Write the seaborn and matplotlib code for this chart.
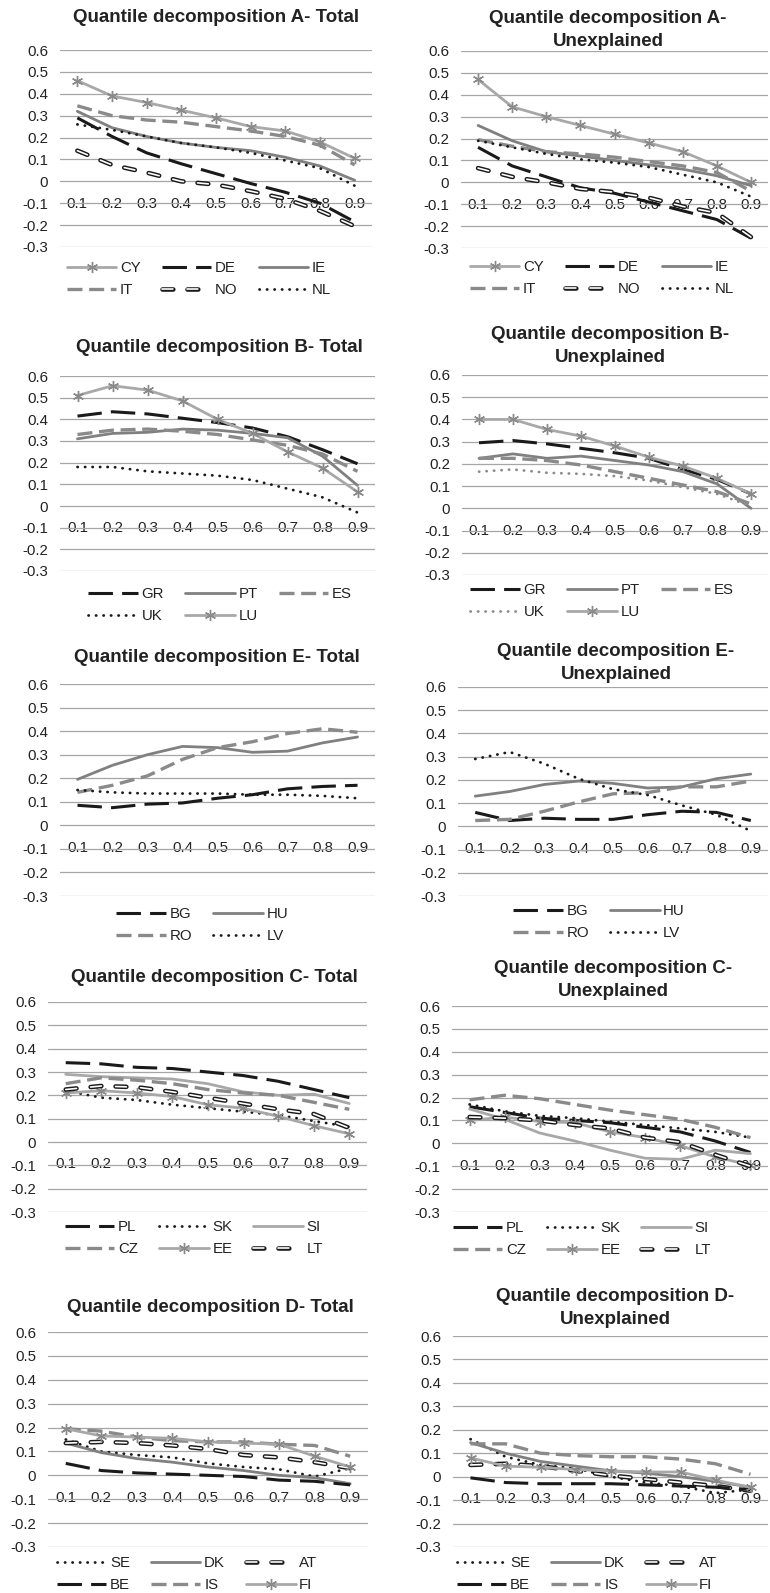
import numpy as np
import pandas as pd
import matplotlib
matplotlib.use("Agg")
import matplotlib.pyplot as plt
import matplotlib.patheffects as pe
import seaborn as sns

# quantiles on the x axis
quantiles = [0.1, 0.2, 0.3, 0.4, 0.5, 0.6, 0.7, 0.8, 0.9]
y_ticks = [-0.3, -0.2, -0.1, 0.0, 0.1, 0.2, 0.3, 0.4, 0.5, 0.6]

# A - Total
a_tot_cy = [0.46, 0.39, 0.36, 0.325, 0.29, 0.25, 0.23, 0.18, 0.105]
a_tot_de = [0.29, 0.205, 0.13, 0.08, 0.035, -0.01, -0.05, -0.10, -0.185]
a_tot_ie = [0.32, 0.245, 0.205, 0.175, 0.155, 0.14, 0.11, 0.07, 0.005]
a_tot_it = [0.345, 0.30, 0.28, 0.27, 0.25, 0.23, 0.205, 0.165, 0.075]
a_tot_no = [0.14, 0.075, 0.04, 0.0, -0.015, -0.045, -0.08, -0.135, -0.205]
a_tot_nl = [0.26, 0.235, 0.205, 0.175, 0.155, 0.13, 0.095, 0.06, -0.02]

# A - Unexplained
a_une_cy = [0.47, 0.345, 0.30, 0.26, 0.22, 0.18, 0.14, 0.075, 0.0]
a_une_de = [0.16, 0.075, 0.025, -0.025, -0.05, -0.09, -0.13, -0.17, -0.255]
a_une_ie = [0.26, 0.19, 0.14, 0.12, 0.10, 0.08, 0.06, 0.03, -0.015]
a_une_it = [0.195, 0.165, 0.14, 0.13, 0.115, 0.095, 0.075, 0.045, -0.04]
a_une_no = [0.065, 0.025, 0.0, -0.03, -0.045, -0.07, -0.11, -0.14, -0.25]
a_une_nl = [0.19, 0.16, 0.13, 0.105, 0.09, 0.07, 0.035, 0.0, -0.065]

# B - Total
b_tot_gr = [0.415, 0.435, 0.425, 0.405, 0.385, 0.36, 0.32, 0.26, 0.195]
b_tot_pt = [0.31, 0.335, 0.34, 0.355, 0.35, 0.335, 0.315, 0.23, 0.095]
b_tot_es = [0.33, 0.35, 0.355, 0.345, 0.33, 0.305, 0.28, 0.24, 0.16]
b_tot_uk = [0.18, 0.18, 0.16, 0.15, 0.14, 0.12, 0.08, 0.04, -0.03]
b_tot_lu = [0.51, 0.555, 0.535, 0.485, 0.40, 0.335, 0.25, 0.175, 0.065]

# B - Unexplained
b_une_gr = [0.295, 0.305, 0.29, 0.27, 0.25, 0.225, 0.175, 0.13, 0.065]
b_une_pt = [0.225, 0.245, 0.225, 0.235, 0.215, 0.195, 0.165, 0.11, 0.0]
b_une_es = [0.225, 0.225, 0.215, 0.195, 0.165, 0.135, 0.105, 0.075, 0.02]
b_une_uk = [0.165, 0.175, 0.16, 0.155, 0.145, 0.125, 0.095, 0.065, 0.01]
b_une_lu = [0.40, 0.40, 0.355, 0.325, 0.28, 0.23, 0.19, 0.135, 0.065]

# E - Total
e_tot_bg = [0.085, 0.075, 0.09, 0.095, 0.115, 0.13, 0.155, 0.165, 0.17]
e_tot_hu = [0.195, 0.255, 0.30, 0.335, 0.33, 0.31, 0.315, 0.35, 0.375]
e_tot_ro = [0.14, 0.17, 0.21, 0.28, 0.33, 0.355, 0.39, 0.41, 0.395]
e_tot_lv = [0.15, 0.14, 0.135, 0.135, 0.135, 0.13, 0.13, 0.125, 0.115]

# E - Unexplained
e_une_bg = [0.06, 0.025, 0.035, 0.03, 0.03, 0.05, 0.065, 0.06, 0.025]
e_une_hu = [0.13, 0.15, 0.18, 0.195, 0.185, 0.165, 0.17, 0.205, 0.225]
e_une_ro = [0.025, 0.03, 0.065, 0.105, 0.14, 0.145, 0.17, 0.17, 0.195]
e_une_lv = [0.29, 0.32, 0.27, 0.205, 0.16, 0.135, 0.09, 0.05, -0.02]

# C - Total
c_tot_pl = [0.34, 0.335, 0.32, 0.315, 0.30, 0.285, 0.26, 0.225, 0.19]
c_tot_sk = [0.22, 0.19, 0.18, 0.16, 0.145, 0.13, 0.115, 0.09, 0.065]
c_tot_si = [0.29, 0.28, 0.275, 0.27, 0.25, 0.215, 0.20, 0.205, 0.165]
c_tot_cz = [0.25, 0.275, 0.265, 0.25, 0.225, 0.21, 0.20, 0.17, 0.14]
c_tot_ee = [0.21, 0.22, 0.21, 0.195, 0.16, 0.145, 0.11, 0.07, 0.035]
c_tot_lt = [0.225, 0.24, 0.235, 0.215, 0.19, 0.165, 0.14, 0.12, 0.06]

# C - Unexplained
c_une_pl = [0.16, 0.135, 0.11, 0.10, 0.09, 0.07, 0.05, 0.01, -0.04]
c_une_sk = [0.17, 0.14, 0.12, 0.11, 0.095, 0.08, 0.065, 0.05, 0.025]
c_une_si = [0.15, 0.105, 0.045, 0.01, -0.03, -0.065, -0.07, -0.03, -0.045]
c_une_cz = [0.19, 0.21, 0.195, 0.17, 0.145, 0.125, 0.105, 0.07, 0.025]
c_une_ee = [0.10, 0.115, 0.095, 0.09, 0.05, 0.025, -0.01, -0.06, -0.095]
c_une_lt = [0.115, 0.11, 0.10, 0.08, 0.065, 0.025, 0.005, -0.05, -0.10]

# D - Total
d_tot_se = [0.15, 0.10, 0.085, 0.075, 0.05, 0.035, 0.025, -0.005, 0.03]
d_tot_dk = [0.135, 0.095, 0.07, 0.055, 0.035, 0.02, 0.0, -0.01, -0.035]
d_tot_at = [0.135, 0.14, 0.135, 0.125, 0.11, 0.085, 0.075, 0.055, 0.03]
d_tot_be = [0.05, 0.02, 0.01, 0.005, 0.0, -0.005, -0.02, -0.025, -0.04]
d_tot_is = [0.195, 0.185, 0.16, 0.145, 0.14, 0.14, 0.13, 0.125, 0.08]
d_tot_fi = [0.195, 0.165, 0.16, 0.155, 0.14, 0.135, 0.13, 0.08, 0.035]

# D - Unexplained
d_une_se = [0.16, 0.085, 0.05, 0.035, 0.0, -0.025, -0.04, -0.07, -0.055]
d_une_dk = [0.145, 0.10, 0.065, 0.045, 0.025, 0.015, 0.0, -0.02, -0.045]
d_une_at = [0.05, 0.055, 0.045, 0.025, 0.005, -0.01, -0.025, -0.04, -0.06]
d_une_be = [-0.005, -0.025, -0.03, -0.03, -0.03, -0.035, -0.04, -0.045, -0.055]
d_une_is = [0.14, 0.14, 0.10, 0.09, 0.085, 0.085, 0.075, 0.055, 0.01]
d_une_fi = [0.08, 0.045, 0.04, 0.03, 0.025, 0.02, 0.02, -0.015, -0.045]

# ---- styling ----
sns.set_style("white")
plt.rcParams["font.family"] = ["Liberation Sans", "DejaVu Sans"]

BLACK = "#1a1a1a"
LIGHT = "#a8a8a8"
MID = "#808080"
DASHG = "#8a8a8a"
GRID = "#a6a6a6"
TXT = "#222222"

STYLES = {
    "star": dict(color=LIGHT, lw=2.0, linestyle="-", marker=(6, 2, 0), markersize=8,
                 markeredgecolor="#8a8a8a", markeredgewidth=1.0),
    "longdash": dict(color=BLACK, lw=2.2, linestyle=(0, (8, 3))),
    "mid": dict(color=MID, lw=2.0, linestyle="-"),
    "light": dict(color=LIGHT, lw=2.0, linestyle="-"),
    "dash": dict(color=DASHG, lw=2.4, linestyle=(0, (4.5, 2))),
    "hollow": dict(color="white", lw=1.2, linestyle=(0, (6.5, 8.5)), dash_capstyle="round",
                   path_effects=[pe.Stroke(linewidth=3.3, foreground=BLACK), pe.Normal()]),
    "dot": dict(color=BLACK, lw=2.0, linestyle=(0, (0.1, 2.6)), dash_capstyle="round"),
    "dotgray": dict(color="#8c8c8c", lw=2.0, linestyle=(0, (0.1, 2.6)), dash_capstyle="round"),
}

W, H = 770, 1593
fig = plt.figure(figsize=(W / 100, H / 100), dpi=100)

# each panel: title, series (legend reading order), legend columns, pixel layout
panels = [
    dict(title="Quantile decomposition A- Total", ncol=3,
         series=[("CY", a_tot_cy, "star"), ("DE", a_tot_de, "longdash"), ("IE", a_tot_ie, "mid"),
                 ("IT", a_tot_it, "dash"), ("NO", a_tot_no, "hollow"), ("NL", a_tot_nl, "dot")],
         box=(60, 372, 50, 247), tpos=(216, 18), lpos=(199, 279)),
    dict(title="Quantile decomposition A-\nUnexplained", ncol=3,
         series=[("CY", a_une_cy, "star"), ("DE", a_une_de, "longdash"), ("IE", a_une_ie, "mid"),
                 ("IT", a_une_it, "dash"), ("NO", a_une_no, "hollow"), ("NL", a_une_nl, "dot")],
         box=(461, 768, 51, 248), tpos=(608, 30), lpos=(602, 278)),
    dict(title="Quantile decomposition B- Total", ncol=3,
         series=[("GR", b_tot_gr, "longdash"), ("PT", b_tot_pt, "mid"), ("ES", b_tot_es, "dash"),
                 ("UK", b_tot_uk, "dot"), ("LU", b_tot_lu, "star")],
         box=(60, 375, 376, 571), tpos=(219, 347), lpos=(220, 605)),
    dict(title="Quantile decomposition B-\nUnexplained", ncol=3,
         series=[("GR", b_une_gr, "longdash"), ("PT", b_une_pt, "mid"), ("ES", b_une_es, "dash"),
                 ("UK", b_une_uk, "dotgray"), ("LU", b_une_lu, "star")],
         box=(462, 768, 375, 575), tpos=(610, 346), lpos=(602, 601)),
    dict(title="Quantile decomposition E- Total", ncol=2,
         series=[("BG", e_tot_bg, "longdash"), ("HU", e_tot_hu, "mid"),
                 ("RO", e_tot_ro, "dash"), ("LV", e_tot_lv, "dot")],
         box=(60, 375, 684, 896), tpos=(217, 657), lpos=(202, 925)),
    dict(title="Quantile decomposition E-\nUnexplained", ncol=2,
         series=[("BG", e_une_bg, "longdash"), ("HU", e_une_hu, "mid"),
                 ("RO", e_une_ro, "dash"), ("LV", e_une_lv, "dot")],
         box=(458, 768, 687, 896), tpos=(616, 663), lpos=(599, 922)),
    dict(title="Quantile decomposition C- Total", ncol=3,
         series=[("PL", c_tot_pl, "longdash"), ("SK", c_tot_sk, "dot"), ("SI", c_tot_si, "light"),
                 ("CZ", c_tot_cz, "dash"), ("EE", c_tot_ee, "star"), ("LT", c_tot_lt, "hollow")],
         box=(48, 367, 1002, 1212), tpos=(214, 978), lpos=(194, 1238)),
    dict(title="Quantile decomposition C-\nUnexplained", ncol=3,
         series=[("PL", c_une_pl, "longdash"), ("SK", c_une_sk, "dot"), ("SI", c_une_si, "light"),
                 ("CZ", c_une_cz, "dash"), ("EE", c_une_ee, "star"), ("LT", c_une_lt, "hollow")],
         box=(452, 768, 1006, 1212), tpos=(613, 980), lpos=(582, 1239)),
    dict(title="Quantile decomposition D- Total", ncol=3,
         series=[("SE", d_tot_se, "dot"), ("DK", d_tot_dk, "mid"), ("AT", d_tot_at, "hollow"),
                 ("BE", d_tot_be, "longdash"), ("IS", d_tot_is, "dash"), ("FI", d_tot_fi, "star")],
         box=(48, 368, 1332, 1547), tpos=(210, 1308), lpos=(187, 1574)),
    dict(title="Quantile decomposition D-\nUnexplained", ncol=3,
         series=[("SE", d_une_se, "dot"), ("DK", d_une_dk, "mid"), ("AT", d_une_at, "hollow"),
                 ("BE", d_une_be, "longdash"), ("IS", d_une_is, "dash"), ("FI", d_une_fi, "star")],
         box=(453, 768, 1336, 1547), tpos=(615, 1308), lpos=(587, 1574)),
]


def row_to_col_order(items, ncol):
    # matplotlib fills legend columns first; reorder so it reads row by row
    n = len(items)
    out = []
    for c in range(ncol):
        for r in range((n + ncol - 1) // ncol):
            i = r * ncol + c
            if i < n:
                out.append(items[i])
    return out


def fmt(v):
    v = round(v, 1)
    return "0" if v == 0 else f"{v:.1f}"


for p in panels:
    x0, x1, yt, yb = p["box"]
    ax = fig.add_axes([x0 / W, 1 - yb / H, (x1 - x0) / W, (yb - yt) / H])

    for name, vals, st in p["series"]:
        df = pd.DataFrame({"q": quantiles, "v": vals})
        sns.lineplot(data=df, x="q", y="v", ax=ax, label=name, legend=False,
                     sort=False, **STYLES[st])

    ax.set_xlim(0.05, 0.95)
    ax.set_ylim(-0.3, 0.6)
    ax.set_yticks(y_ticks)
    ax.set_yticklabels([fmt(v) for v in y_ticks])
    ax.set_xticks(quantiles)
    ax.set_xticklabels([f"{q:.1f}" for q in quantiles])
    ax.set_xlabel("")
    ax.set_ylabel("")
    ax.grid(False)
    ax.yaxis.grid(True, color=GRID, lw=0.9)
    ax.set_axisbelow(True)
    for s in ["top", "right", "left"]:
        ax.spines[s].set_visible(False)
    ax.spines["bottom"].set_position(("data", 0))
    ax.spines["bottom"].set_visible(False)
    ax.tick_params(axis="both", length=0, labelsize=10.8, labelcolor=TXT)
    ax.tick_params(axis="x", pad=11)
    ax.tick_params(axis="y", pad=8.5)
    ax.patch.set_alpha(0)

    fig.text(p["tpos"][0] / W, 1 - p["tpos"][1] / H, p["title"], ha="center", va="center",
             fontsize=13.5, fontweight="bold", color=TXT, linespacing=1.4)

    handles, labels = ax.get_legend_handles_labels()
    pairs = row_to_col_order(list(zip(handles, labels)), p["ncol"])
    fig.legend([h for h, _ in pairs], [l for _, l in pairs], loc="center",
               bbox_to_anchor=(p["lpos"][0] / W, 1 - p["lpos"][1] / H),
               ncol=p["ncol"], frameon=False, fontsize=10.8, numpoints=1,
               handlelength=3.3, handletextpad=0.25, columnspacing=1.4, labelspacing=0.55,
               labelcolor=TXT)

fig.savefig("out.png", dpi=100, facecolor="white")
